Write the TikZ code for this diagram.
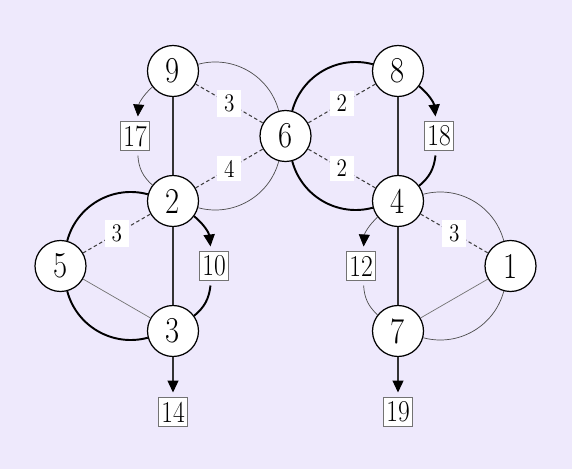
\documentclass[tikz,border=0pt]{standalone}
\usepackage{graphicx}
\usetikzlibrary{arrows.meta}
\definecolor{lavender}{RGB}{238,233,252}
\newcommand{\narrow}[1]{\scalebox{0.84}[1]{#1}}

\begin{document}
\begin{tikzpicture}[
    vtx/.style={circle, draw, fill=white, line width=0.7pt, minimum size=1.02cm, inner sep=0pt, font=\huge},
    outbox/.style={rectangle, draw=black!55, fill=white, line width=0.5pt, minimum size=0.58cm, inner sep=1pt, outer sep=1mm, font=\LARGE},
    wlabel/.style={fill=white, inner xsep=4pt, inner ysep=2.5pt, font=\Large},
    heavy/.style={line width=1.1pt},
    light/.style={line width=0.4pt, draw=black!70},
    spine/.style={line width=0.75pt, draw=black!80},
    thinline/.style={line width=0.4pt, draw=black!55},
    cut/.style={dash pattern=on 2pt off 1.5pt, line width=0.6pt, draw=black!75},
    tip/.style={-{Triangle[length=2.4mm,width=2.2mm,color=black]}}
]
    \fill[lavender] (0,0) rectangle (11.44,9.38);
    \useasboundingbox (0,0) rectangle (11.44,9.38);

    \node[vtx](n9)at(3.46,7.96){\narrow{9}};
    \node[vtx](n6)at(5.71,6.66){\narrow{6}};
    \node[vtx](n2)at(3.46,5.36){\narrow{2}};
    \node[vtx](n5)at(1.21,4.06){\narrow{5}};
    \node[vtx](n3)at(3.46,2.76){\narrow{3}};
    \node[vtx](n8)at(7.96,7.96){\narrow{8}};
    \node[vtx](n4)at(7.96,5.36){\narrow{4}};
    \node[vtx](n1)at(10.21,4.06){\narrow{1}};
    \node[vtx](n7)at(7.96,2.76){\narrow{7}};

    \node[outbox](b17)at(2.70,6.66){\narrow{17}};
    \node[outbox](b10)at(4.28,4.06){\narrow{10}};
    \node[outbox](b18)at(8.78,6.66){\narrow{18}};
    \node[outbox](b12)at(7.22,4.06){\narrow{12}};
    \node[outbox](b14)at(3.46,1.14){\narrow{14}};
    \node[outbox](b19)at(7.96,1.14){\narrow{19}};

    \path[draw, light](n9)to[bend left=45](n6);
    \path[draw, light](n6)to[bend left=45](n2);
    \path[draw, light, tip](n9)to[bend right=22](b17);
    \path[draw, light](b17)to[bend right=22](n2);

    \path[draw, heavy](n2)to[bend right=45](n5);
    \path[draw, heavy](n5)to[bend right=45](n3);
    \path[draw, heavy, tip](n2)to[bend left=22](b10);
    \path[draw, heavy](b10)to[bend left=22](n3);

    \path[draw, heavy](n8)to[bend right=45](n6);
    \path[draw, heavy](n6)to[bend right=45](n4);
    \path[draw, heavy, tip](n8)to[bend left=22](b18);
    \path[draw, heavy](b18)to[bend left=22](n4);

    \path[draw, light](n4)to[bend left=45](n1);
    \path[draw, light](n1)to[bend left=45](n7);
    \path[draw, light, tip](n4)to[bend right=22](b12);
    \path[draw, light](b12)to[bend right=22](n7);

    \path[draw, spine](n9)to(n2);
    \path[draw, spine](n2)to(n3);
    \path[draw, spine](n8)to(n4);
    \path[draw, spine](n4)to(n7);
    \path[draw, thinline](n5)to(n3);
    \path[draw, thinline](n1)to(n7);

    \path[draw, cut](n9)to node[wlabel]{\narrow{3}}(n6);
    \path[draw, cut](n2)to node[wlabel]{\narrow{4}}(n6);
    \path[draw, cut](n8)to node[wlabel]{\narrow{2}}(n6);
    \path[draw, cut](n4)to node[wlabel]{\narrow{2}}(n6);
    \path[draw, cut](n5)to node[wlabel]{\narrow{3}}(n2);
    \path[draw, cut](n4)to node[wlabel]{\narrow{3}}(n1);

    \path[draw, spine, tip](n3)to(b14);
    \path[draw, spine, tip](n7)to(b19);
\end{tikzpicture}
\end{document}
